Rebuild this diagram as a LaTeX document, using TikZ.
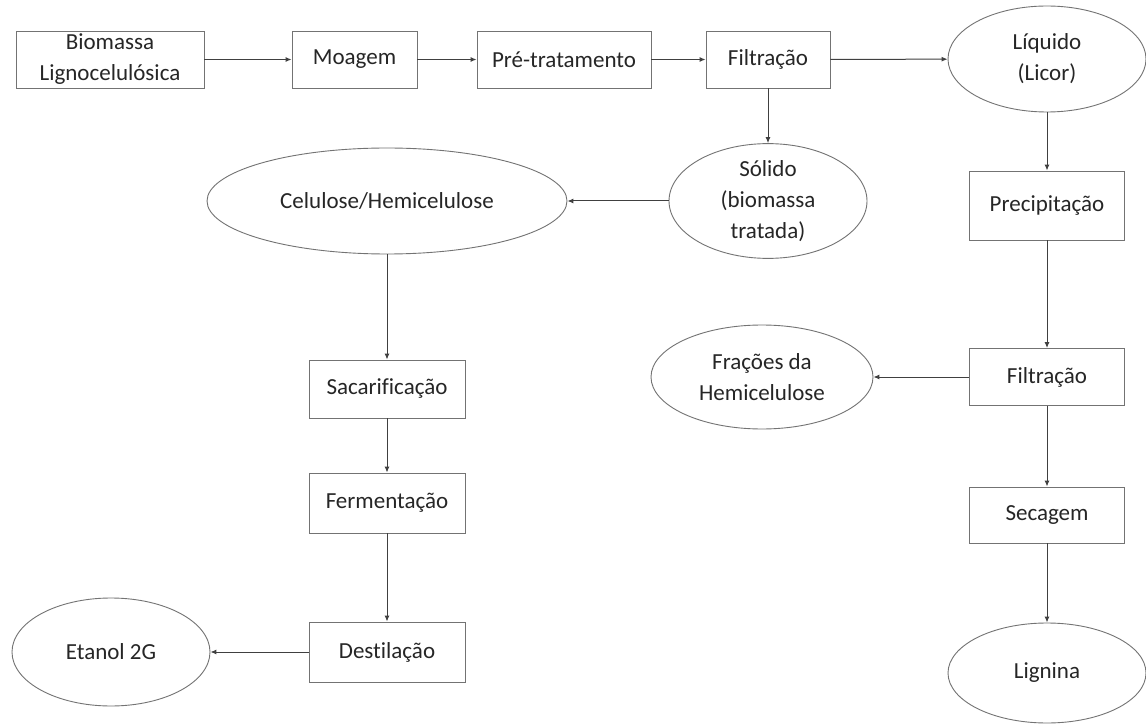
\documentclass[tikz,border=0pt]{standalone}
\usepackage{fontspec}
\setmainfont{Carlito}[Ligatures=CommonOff]
\usetikzlibrary{shapes.geometric,arrows.meta}
\begin{document}
\begin{tikzpicture}[x=1pt,y=-1pt,
  every node/.style={font=\fontsize{23}{31}\selectfont, text=black!85, align=center},
  proc/.style={draw=black!55, line width=0.9pt, rectangle, inner sep=0pt, minimum height=57pt},
  prod/.style={draw=black!55, line width=0.9pt, ellipse, inner sep=0pt, minimum width=198pt, minimum height=106pt},
  flow/.style={draw=black!75, line width=1pt, -{Latex[length=6pt,width=5pt]}}]
\useasboundingbox (0,0) rectangle (1146,727);
\fill[white] (0,0) rectangle (1146,727);

% main line
\node[proc, minimum width=188pt] (bio) at (110,59.5) {Biomassa\\Lignocelulósica};
\node[proc, minimum width=125pt] (moa) at (354.5,59.5) {Moagem};
\node[proc, minimum width=174pt] (pre) at (564,59.5) {Pré-tratamento};
\node[proc, minimum width=124pt] (fil1) at (768,59.5) {Filtração};
\node[prod] (liq) at (1047,59) {Líquido\\(Licor)};

% solid branch
\node[prod] (sol) at (768,201) {Sólido\\(biomassa\\tratada)};
\node[prod, minimum width=360pt] (cel) at (387,201) {Celulose/Hemicelulose};
\node[proc, minimum width=156pt, minimum height=58pt] (sac) at (387,389) {Sacarificação};
\node[proc, minimum width=156pt, minimum height=60pt] (fer) at (387,503) {Fermentação};
\node[proc, minimum width=156pt, minimum height=60pt] (des) at (387,652) {Destilação};
\node[prod, minimum height=108pt] (eta) at (111,652) {Etanol 2G};

% liquor branch
\node[proc, minimum width=155pt, minimum height=69pt] (prec) at (1047,205.5) {Precipitação};
\node[proc, minimum width=155pt] (fil2) at (1047,377) {Filtração};
\node[prod, minimum width=222pt, minimum height=104pt] (fra) at (762,377) {Frações da\\Hemicelulose};
\node[proc, minimum width=155pt, minimum height=56pt] (sec) at (1047,515) {Secagem};
\node[prod, minimum height=100pt] (lig) at (1047,673) {Lignina};

% connectors
\draw[flow] (bio) -- (moa);
\draw[flow] (moa) -- (pre);
\draw[flow] (pre) -- (fil1);
\draw[flow] (fil1) -- (liq);
\draw[flow] (fil1) -- (sol);
\draw[flow] (sol) -- (cel);
\draw[flow] (cel) -- (sac);
\draw[flow] (sac) -- (fer);
\draw[flow] (fer) -- (des);
\draw[flow] (des) -- (eta);
\draw[flow] (liq) -- (prec);
\draw[flow] (prec) -- (fil2);
\draw[flow] (fil2) -- (fra);
\draw[flow] (fil2) -- (sec);
\draw[flow] (sec) -- (lig);
\end{tikzpicture}
\end{document}
